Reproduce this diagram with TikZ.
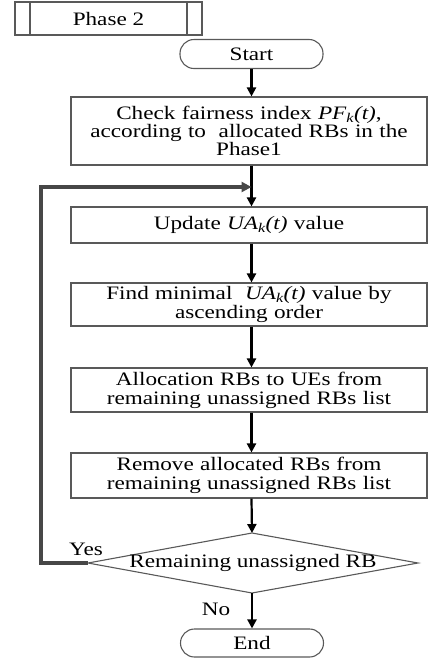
\documentclass[tikz,border=0pt]{standalone}
\usepackage{fontspec}
\setmainfont[FakeStretch=1.22]{Liberation Serif}
\usetikzlibrary{arrows.meta,calc}
\begin{document}
\begin{tikzpicture}[x=1pt,y=1pt,
  every node/.style={font=\fontsize{19}{19.2}\selectfont},
  procbox/.style={draw=black!65,line width=1.1pt,minimum width=356pt,align=center,inner sep=0pt,text width=350pt},
  termbox/.style={draw=black!65,line width=1.1pt,rounded corners=14pt,minimum width=143pt,minimum height=29pt,inner sep=0pt},
  arr/.style={line width=2.2pt,-{Triangle[length=9pt,width=9pt]}},
  looparr/.style={draw=black!72,line width=3.8pt,-{Triangle[length=10pt,width=10pt]}}]
\useasboundingbox (0,0) rectangle (428,-659);
\clip (0,0) rectangle (428,-659);
% Phase 2
\node[draw=black!65,line width=1.1pt,minimum width=187pt,minimum height=33pt,inner sep=0pt] (ph) at (108.5,-18.5) {Phase 2};
\draw[black!65,line width=1.1pt] (30,0 |- ph.north) -- (30,0 |- ph.south);
\draw[black!65,line width=1.1pt] (187,0 |- ph.north) -- (187,0 |- ph.south);
% Start
\node[termbox] (st) at (251.5,-54) {Start};
% Boxes
\node[procbox,minimum height=68pt,font=\fontsize{19}{18}\selectfont] (b1) at (249,-131) {Check fairness index \textit{PF\textsubscript{k}(t)},\\according to~ allocated RBs in the\\Phase1};
\node[procbox,minimum height=36pt] (b2) at (249,-225) {Update \textit{UA\textsubscript{k}(t)} value};
\node[procbox,minimum height=43pt] (b3) at (249,-304.5) {Find minimal~ \textit{UA\textsubscript{k}(t)} value by\\ascending order};
\node[procbox,minimum height=44pt] (b4) at (249,-390) {Allocation RBs to UEs from\\remaining unassigned RBs list};
\node[procbox,minimum height=45pt] (b5) at (249,-475.5) {Remove allocated RBs from\\remaining unassigned RBs list};
% Decision
\coordinate (dt) at (252,-533);
\coordinate (db) at (252,-593);
\coordinate (dl) at (88,-563);
\coordinate (dr) at (418,-563);
\draw[black!65,line width=1.1pt] (dt) -- (dr) -- (db) -- (dl) -- cycle;
\node (dec) at (253,-563) {Remaining unassigned RB};
% End
\node[termbox,minimum height=28pt] (en) at (252,-643) {End};
% Connectors
\draw[arr] (st.south) -- (st.south |- b1.north);
\draw[arr] (st.south |- b1.south) -- (st.south |- b2.north);
\draw[arr] (st.south |- b2.south) -- (st.south |- b3.north);
\draw[arr] (st.south |- b3.south) -- (st.south |- b4.north);
\draw[arr] (st.south |- b4.south) -- (st.south |- b5.north);
\draw[arr] (st.south |- b5.south) -- (dt);
\draw[arr] (db) -- (en.north);
\coordinate (lp) at (41,-187);
\coordinate (lj) at (st.south |- lp);
\draw[looparr] (dl) -- (dl -| lp) -- (lp) -- (lj);
% Labels
\node (yes) at (86,-549) {Yes};
\node (no) at (216,-609) {No};
\end{tikzpicture}
\end{document}
